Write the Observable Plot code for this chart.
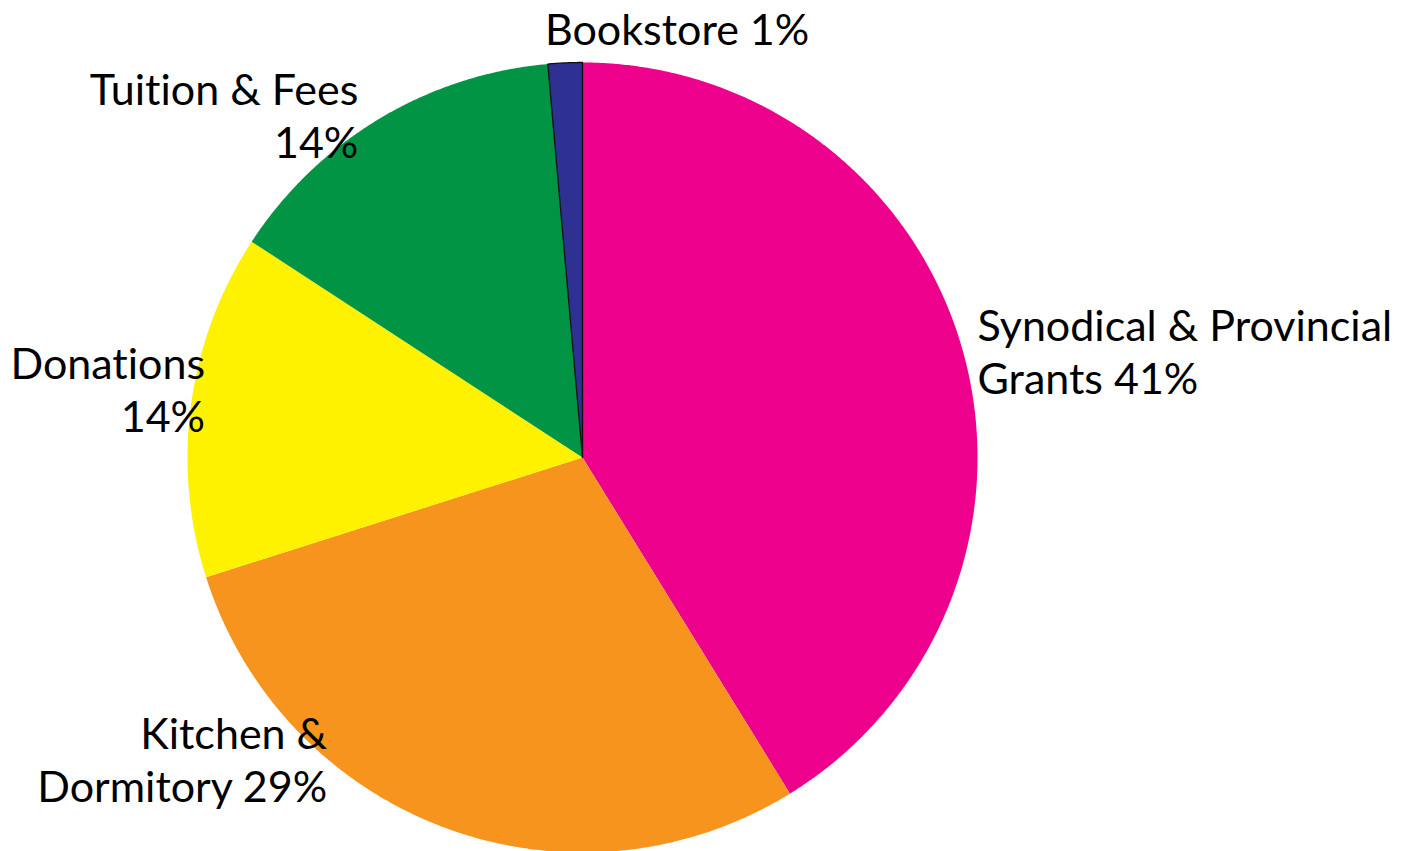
<!DOCTYPE html>
<html><head><meta charset="utf-8">
<script src="https://cdn.jsdelivr.net/npm/d3@7"></script>
<script src="https://cdn.jsdelivr.net/npm/@observablehq/plot@0.6"></script>
<style>body{margin:0;background:#fff} svg{display:block} svg text{font-variant-ligatures:none;font-feature-settings:"liga" 0}</style>
</head><body><div id="chart"></div>
<script>
// Data (clockwise from 12 o'clock)
const categories = ["Synodical & Provincial Grants", "Kitchen & Dormitory", "Donations", "Tuition & Fees", "Bookstore"];
const values = [41.2, 28.9, 14.1, 14.4, 1.4];
const labelTexts = ["Synodical & Provincial\nGrants 41%", "Kitchen &\nDormitory 29%", "Donations\n14%", "Tuition & Fees\n14%", "Bookstore 1%"];
const colors = ["#EC008C", "#F7941E", "#FFF200", "#009444", "#2E3192"];

const total = d3.sum(values);
let acc = 0;
const slices = categories.map((name, i) => {
  const a0 = acc / total * 2 * Math.PI;
  acc += values[i];
  const a1 = acc / total * 2 * Math.PI;
  return {name, i, a0, a1, mid: (a0 + a1) / 2};
});
const pts = [];
for (const s of slices) {
  pts.push({name: s.name, x: 0, y: 0});
  const n = Math.max(2, Math.ceil((s.a1 - s.a0) / 0.005));
  for (let k = 0; k <= n; k++) {
    const a = s.a0 + (s.a1 - s.a0) * k / n;
    pts.push({name: s.name, x: Math.sin(a), y: Math.cos(a)});
  }
}
const anchor = (i) => ({x: Math.sin(slices[i].mid), y: Math.cos(slices[i].mid), text: labelTexts[i]});
const font = "Lato";
const txt = (i, opts) => Plot.text([anchor(i)], {x: "x", y: "y", text: "text", fontSize: 43, lineHeight: 1.23, fill: "black", fontFamily: font, ...opts});

const chart = Plot.plot({
  width: 1407, height: 851,
  margin: 0,
  x: {domain: [-1, 1], range: [187, 977], axis: null},
  y: {domain: [-1, 1], range: [852, 62], axis: null},
  color: {domain: categories, range: colors},
  style: {background: "#fff", fontFamily: font},
  marks: [
    Plot.line(pts, {x: "x", y: "y", z: "name", fill: "name", stroke: "none", curve: "linear-closed"}),
    Plot.line(pts.filter(d => d.name === "Bookstore"), {x: "x", y: "y", fill: "none", stroke: "#111", strokeWidth: 1.3, curve: "linear-closed"}),
    txt(0, {textAnchor: "start", dx: 15, dy: 1}),
    txt(1, {textAnchor: "end", dx: -118, dy: -69}),
    txt(2, {textAnchor: "end", dx: 14, dy: -16}),
    txt(3, {textAnchor: "end", dx: -21, dy: -4}),
    txt(4, {textAnchor: "middle", dx: 112, dy: -35})
  ]
});
document.getElementById("chart").append(chart);
</script>
</body></html>
